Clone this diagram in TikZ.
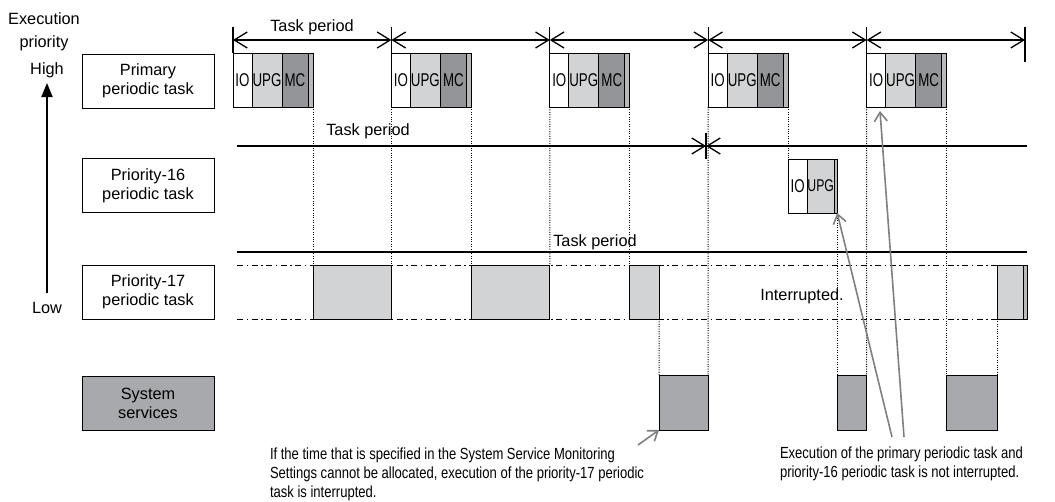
\documentclass[tikz,border=0pt]{standalone}
\usepackage{fontspec}
\setmainfont{Liberation Sans}
\newfontfamily\narrowfont{Liberation Sans}[FakeStretch=0.72]
\newfontfamily\notefont{Liberation Sans}[FakeStretch=0.81]
\usetikzlibrary{arrows.meta}
\definecolor{upg}{HTML}{D1D3D4}
\definecolor{mc}{HTML}{939598}
\definecolor{sys}{HTML}{A7A9AC}
\definecolor{stripc}{HTML}{B8BABC}
\definecolor{notec}{HTML}{808080}
\begin{document}
\begin{tikzpicture}[x=1pt,y=-1pt,
  every node/.style={font=\fontsize{16.3}{19}\selectfont, inner sep=0pt, outer sep=0pt},
  lbl/.style={draw, line width=1pt, minimum width=132pt, minimum height=54pt, align=center},
  blk/.style={draw, line width=1pt, anchor=north west, minimum height=54pt, font=\narrowfont\fontsize{18.5}{19}\selectfont},
  bar/.style={draw, line width=1pt, anchor=north west, minimum height=54pt},
  period/.style={line width=1.3pt, {Straight Barb[length=13pt,width=16pt,line width=1.3pt]}-{Straight Barb[length=13pt,width=16pt,line width=1.3pt]}},
  tick/.style={line width=1.3pt},
  dotline/.style={line width=1pt, dash pattern=on 1pt off 1.4pt},
  dashdot/.style={line width=0.9pt, dash pattern=on 6pt off 3.5pt on 1.5pt off 3.5pt},
  notearrow/.style={draw=notec, line width=1.6pt, -{Straight Barb[length=9pt,width=13pt,line width=1.6pt]}},
  note/.style={font=\notefont\fontsize{16.1}{19}\selectfont, align=left, anchor=north west}
]
\fill[white] (0,0) rectangle (1055,501);
\useasboundingbox (0,0) rectangle (1055,501);

% priority axis
\node (exec) at (44,19) {Execution};
\node (prio) at (44,43) {priority};
\node (high) at (47,70) {High};
\node (low) at (47,308) {Low};
\coordinate (axbot) at (47,293);
\coordinate (axtop) at (47,83);
\draw[line width=2pt, -{Triangle[length=14pt,width=11pt]}] (axbot) -- (axtop);

% label boxes
\node[lbl] (primary) at (148,81) {Primary\\periodic task};
\node[lbl] (p16lbl) at (148,185.5) {Priority-16\\periodic task};
\node[lbl] (p17lbl) at (148,292) {Priority-17\\periodic task};
\node[lbl, fill=sys] (syslbl) at (148,403) {System\\services};

% primary task period ticks and arrows
\foreach \k/\t in {0/233,1/391.4,2/549.8,3/708.2,4/866.6} {
  \coordinate (t\k) at (\t,40);
  \draw[tick] (\t,27) -- (\t,53);
}
\coordinate (t5) at (1025,40);
\draw[tick] (1025,27) -- (1025,62);
\draw[period] (t0) -- (t1);
\draw[period] (t1) -- (t2);
\draw[period] (t2) -- (t3);
\draw[period] (t3) -- (t4);
\draw[period] (t4) -- (t5);
\node (tp1) at (312,27) {Task period};

% primary blocks
\foreach \k/\s in {0/233,1/391.4,2/549.8,3/708.2,4/866.6} {
  \node[blk, fill=white, minimum width=19pt] (io\k) at (\s,53) {IO};
  \node[blk, fill=upg, minimum width=30pt] (upg\k) at (\s+19,53) {UPG};
  \node[blk, fill=mc, minimum width=26pt] (mc\k) at (\s+49,53) {MC};
  \node[bar, fill=stripc, minimum width=5pt] (strip\k) at (\s+75,53) {};
}

% priority-16 period line
\coordinate (p16s) at (237,146);
\coordinate (p16m) at (706,146);
\coordinate (p16e) at (1027,146);
\draw[line width=1.3pt, -{Straight Barb[length=13pt,width=16pt,line width=1.3pt]}] (p16s) -- (p16m);
\draw[line width=1.3pt, {Straight Barb[length=13pt,width=16pt,line width=1.3pt]}-] (p16m) -- (p16e);
\draw[tick] (706,133) -- (706,159);
\node (tp2) at (368,131) {Task period};

% priority-16 block
\node[blk, fill=white, minimum width=19pt] (p16io) at (788.2,159) {IO};
\node[blk, fill=upg, minimum width=27pt, font=\narrowfont\fontsize{17}{19}\selectfont] (p16upg) at (807.2,159) {UPG};
\node[bar, fill=stripc, minimum width=3pt] (p16strip) at (834.2,159) {};

% priority-17 lines
\coordinate (p17s) at (237,252);
\coordinate (p17e) at (1027,252);
\draw[line width=1.3pt] (p17s) -- (p17e);
\node (tp3) at (595,242) {Task period};
\coordinate (dd1s) at (237,265);
\coordinate (dd1e) at (1027,265);
\coordinate (dd2s) at (237,319);
\coordinate (dd2e) at (1027,319);
\draw[dashdot] (dd1s) -- (dd1e);
\draw[dashdot] (dd2s) -- (dd2e);

% priority-17 boxes
\node[bar, fill=upg, minimum width=78.4pt] (p17a) at (313,265) {};
\node[bar, fill=upg, minimum width=78.4pt] (p17b) at (471.4,265) {};
\node[bar, fill=upg, minimum width=29.2pt] (p17c) at (629.8,265) {};
\node[bar, fill=upg, minimum width=25.5pt] (p17d) at (997.5,265) {};
\node[bar, fill=stripc, minimum width=4pt] (p17ds) at (1023,265) {};
\node (intr) at (802,296) {Interrupted.};

% system service boxes
\node[bar, fill=sys, minimum width=49.2pt, minimum height=55pt] (sysa) at (659,375) {};
\node[bar, fill=sys, minimum width=29.4pt, minimum height=55pt] (sysb) at (837.2,375) {};
\node[bar, fill=sys, minimum width=50.9pt, minimum height=55pt] (sysc) at (946.6,375) {};

% dotted guide lines
\draw[dotline] (strip0.south east) -- (p17a.north west);
\draw[dotline] (io1.south west) -- (p17a.north east);
\draw[dotline] (strip1.south east) -- (p17b.north west);
\draw[dotline] (io2.south west) -- (p17b.north east);
\draw[dotline] (strip2.south east) -- (p17c.north west);
\draw[dotline] (p17c.south east) -- (sysa.north west);
\draw[dotline] (io3.south west) -- (sysa.north east);
\draw[dotline] (strip3.south east) -- (p16io.north west);
\draw[dotline] (p16strip.south east) -- (sysb.north west);
\draw[dotline] (io4.south west) -- (sysb.north east);
\draw[dotline] (strip4.south east) -- (sysc.north west);
\draw[dotline] (p17d.south west) -- (sysc.north east);

% notes
\node[note] (noteL) at (270,447.5) {If the time that is specified in the System Service Monitoring\\Settings cannot be allocated, execution of the priority-17 periodic\\task is interrupted.};
\node[note] (noteR) at (780,447) {Execution of the primary periodic task and\\priority-16 periodic task is not interrupted.};
\coordinate (a1s) at (638,445);
\coordinate (a2s) at (892,437);
\coordinate (a3s) at (904,437);
\draw[notearrow] (a1s) -- (sysa.south west);
\draw[notearrow] (a2s) -- (p16strip.south east);
\draw[notearrow] (a3s) -- (880,111);
\end{tikzpicture}
\end{document}
